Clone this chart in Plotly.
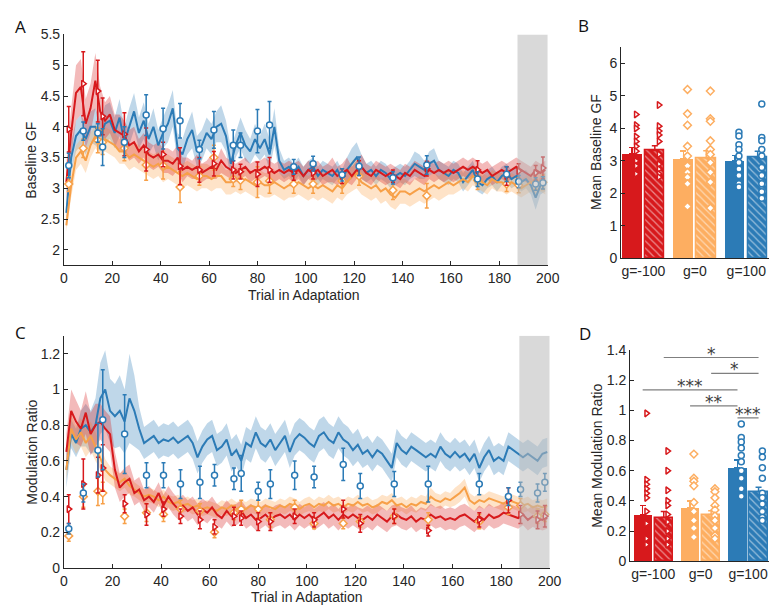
import plotly.graph_objects as go

# ---------------- data ----------------
trials = list(range(1, 200, 2))
catch_x = [2, 8, 14, 16, 25, 34, 41, 48, 56, 62, 70, 73, 80, 85, 95, 103, 115, 122, 136, 150, 171, 183, 188, 195, 198]

# Panel A : Baseline GF (mean and sem per trial)
a_blue = [2.6, 3.5, 3.85, 3.95, 3.8, 4.0, 4.0, 3.85, 4.05, 4.1,
          3.9, 4.15, 3.75, 4.0, 4.25, 3.9, 4.1, 3.8, 4.0, 3.7,
          3.9, 4.05, 4.3, 3.65, 3.55, 3.8, 3.95, 3.6, 3.7, 3.9,
          3.8, 4.0, 4.05, 3.85, 3.4, 3.7, 3.9, 3.7, 3.6, 3.8,
          3.65, 3.8, 3.55, 4.0, 3.45, 3.3, 3.35, 3.25, 3.35, 3.2,
          3.3, 3.35, 3.2, 3.3, 3.25, 3.2, 3.3, 3.15, 3.3, 3.4,
          3.5, 3.35, 3.25, 3.3, 3.2, 3.3, 3.25, 3.15, 3.2, 3.25,
          3.2, 3.3, 3.4, 3.35, 3.3, 3.4, 3.45, 3.3, 3.25, 3.2,
          3.3, 3.25, 3.1, 3.2, 3.3, 3.1, 3.05, 3.15, 3.2, 3.1,
          3.2, 3.25, 3.15, 3.2, 3.1, 3.15, 3.05, 2.85, 3.05, 3.1]
a_blue_sem = [0.15, 0.25, 0.25, 0.25, 0.25, 0.25, 0.3, 0.25, 0.3, 0.3,
              0.25, 0.3, 0.25, 0.3, 0.3, 0.25, 0.3, 0.25, 0.3, 0.25,
              0.25, 0.3, 0.3, 0.25, 0.25, 0.25, 0.3, 0.25, 0.25, 0.25,
              0.25, 0.25, 0.3, 0.25, 0.25, 0.2, 0.25, 0.25, 0.2, 0.25,
              0.2, 0.25, 0.25, 0.3, 0.2, 0.15, 0.15, 0.15, 0.15, 0.15,
              0.15, 0.15, 0.15, 0.15, 0.15, 0.15, 0.15, 0.15, 0.2, 0.25,
              0.25, 0.2, 0.15, 0.15, 0.15, 0.15, 0.15, 0.15, 0.15, 0.15,
              0.15, 0.15, 0.2, 0.2, 0.15, 0.2, 0.2, 0.15, 0.15, 0.15,
              0.15, 0.15, 0.15, 0.15, 0.15, 0.15, 0.15, 0.15, 0.15, 0.15,
              0.15, 0.15, 0.15, 0.15, 0.15, 0.15, 0.15, 0.2, 0.15, 0.15]
a_red = [3.1, 3.9, 4.55, 4.65, 4.05, 4.3, 4.75, 4.25, 4.1, 4.2,
         3.95, 3.9, 3.85, 3.7, 3.75, 3.6, 3.7, 3.55, 3.5, 3.55,
         3.45, 3.45, 3.4, 3.5, 3.3, 3.35, 3.3, 3.35, 3.25, 3.3,
         3.35, 3.3, 3.45, 3.35, 3.3, 3.25, 3.3, 3.35, 3.25, 3.3,
         3.3, 3.35, 3.3, 3.25, 3.3, 3.25, 3.3, 3.25, 3.3, 3.2,
         3.3, 3.25, 3.3, 3.2, 3.25, 3.3, 3.2, 3.25, 3.3, 3.2,
         3.3, 3.35, 3.25, 3.2, 3.3, 3.25, 3.2, 3.25, 3.2, 3.15,
         3.25, 3.2, 3.3, 3.25, 3.2, 3.3, 3.25, 3.3, 3.25, 3.3,
         3.25, 3.3, 3.35, 3.3, 3.35, 3.3, 3.25, 3.3, 3.2, 3.25,
         3.3, 3.25, 3.3, 3.35, 3.3, 3.25, 3.2, 3.3, 3.25, 3.3]
a_red_sem = [0.3, 0.4, 0.45, 0.45, 0.4, 0.4, 0.45, 0.4, 0.3, 0.3,
             0.25, 0.3, 0.25, 0.25, 0.25, 0.2, 0.2, 0.2, 0.2, 0.2,
             0.2, 0.2, 0.2, 0.2, 0.2, 0.15, 0.15, 0.2, 0.15, 0.15,
             0.2, 0.15, 0.2, 0.15, 0.15, 0.15, 0.15, 0.15, 0.15, 0.15,
             0.15, 0.15, 0.15, 0.15, 0.15, 0.15, 0.15, 0.15, 0.15, 0.15,
             0.15, 0.15, 0.15, 0.15, 0.15, 0.2, 0.15, 0.15, 0.2, 0.15,
             0.15, 0.2, 0.15, 0.15, 0.15, 0.15, 0.15, 0.15, 0.15, 0.15,
             0.15, 0.15, 0.15, 0.15, 0.15, 0.15, 0.15, 0.15, 0.15, 0.15,
             0.15, 0.15, 0.15, 0.15, 0.15, 0.15, 0.15, 0.15, 0.15, 0.15,
             0.15, 0.15, 0.15, 0.15, 0.15, 0.15, 0.15, 0.15, 0.15, 0.15]
a_orange = [2.4, 3.05, 3.5, 3.6, 3.45, 3.7, 3.85, 3.75, 3.8, 3.75,
            3.7, 3.6, 3.6, 3.5, 3.55, 3.5, 3.45, 3.4, 3.35, 3.4,
            3.3, 3.35, 3.3, 3.25, 3.2, 3.25, 3.2, 3.15, 3.2, 3.2,
            3.15, 3.2, 3.2, 3.1, 3.1, 3.15, 3.1, 3.15, 3.1, 3.05,
            3.1, 3.05, 3.05, 3.1, 3.05, 3.0, 3.05, 3.05, 3.1, 3.05,
            3.0, 3.05, 3.0, 3.05, 3.0, 2.95, 3.05, 3.0, 3.1, 3.2,
            3.25, 3.1, 3.05, 3.0, 3.05, 2.95, 3.0, 2.9, 2.85, 2.95,
            2.95, 2.9, 2.95, 3.0, 2.95, 3.0, 3.05, 3.0, 3.05, 3.1,
            3.05, 3.1, 3.15, 3.1, 3.2, 3.15, 3.1, 3.05, 3.15, 3.1,
            3.1, 3.05, 3.1, 3.05, 3.0, 3.05, 3.1, 3.05, 3.1, 3.05]
a_orange_sem = [0.1, 0.2, 0.2, 0.2, 0.2, 0.2, 0.2, 0.2, 0.2, 0.2,
                0.2, 0.2, 0.2, 0.2, 0.2, 0.2, 0.2, 0.2, 0.2, 0.2,
                0.2, 0.2, 0.2, 0.2, 0.2, 0.2, 0.2, 0.2, 0.2, 0.2,
                0.2, 0.2, 0.2, 0.2, 0.2, 0.2, 0.2, 0.2, 0.2, 0.2,
                0.2, 0.2, 0.2, 0.2, 0.2, 0.2, 0.2, 0.2, 0.2, 0.2,
                0.2, 0.2, 0.2, 0.2, 0.2, 0.2, 0.2, 0.2, 0.2, 0.25,
                0.25, 0.2, 0.2, 0.2, 0.2, 0.2, 0.2, 0.2, 0.2, 0.2,
                0.2, 0.2, 0.2, 0.2, 0.2, 0.2, 0.2, 0.2, 0.2, 0.2,
                0.15, 0.15, 0.15, 0.15, 0.15, 0.15, 0.15, 0.15, 0.15, 0.15,
                0.15, 0.15, 0.15, 0.15, 0.15, 0.15, 0.15, 0.15, 0.15, 0.15]

# catch trial markers (panel A)
a_catch_blue = [3.37, 3.93, 3.9, 3.67, 3.75, 4.19, 3.97, 4.1, 3.63, 3.95, 3.7, 3.7, 3.93, 4.03, 3.35, 3.4, 3.22, 3.36, 3.17, 3.38, 3.15, 3.23, 3.11, 3.07, 3.09]
a_catch_blue_err = [0.2, 0.15, 0.15, 0.3, 0.25, 0.33, 0.33, 0.28, 0.15, 0.3, 0.25, 0.2, 0.35, 0.38, 0.12, 0.12, 0.1, 0.15, 0.1, 0.15, 0.12, 0.12, 0.1, 0.1, 0.1]
a_catch_red = [3.96, 4.7, 4.58, 4.17, 3.88, 3.63, 3.55, 3.36, 3.3, 3.4, 3.3, 3.27, 3.23, 3.3, 3.25, 3.25, 3.2, 3.33, 3.2, 3.32, 3.3, 3.2, 3.28, 3.25, 3.33]
a_catch_red_err = [0.37, 0.52, 0.5, 0.3, 0.35, 0.35, 0.2, 0.3, 0.2, 0.2, 0.15, 0.12, 0.2, 0.2, 0.12, 0.1, 0.12, 0.12, 0.1, 0.12, 0.15, 0.15, 0.12, 0.12, 0.18]
a_catch_orange = [3.07, 3.65, 3.78, 3.75, 3.65, 3.38, 3.37, 3.02, 3.2, 3.5, 3.15, 3.13, 3.1, 3.12, 3.07, 3.07, 3.12, 3.2, 2.97, 2.88, 3.13, 3.07, 3.05, 3.1, 3.1]
a_catch_orange_err = [0.12, 0.15, 0.2, 0.2, 0.2, 0.25, 0.22, 0.25, 0.15, 0.2, 0.12, 0.15, 0.25, 0.2, 0.15, 0.15, 0.2, 0.15, 0.15, 0.2, 0.15, 0.12, 0.12, 0.12, 0.12]

# Panel C : Modulation ratio
c_blue = [0.55, 0.75, 0.7, 0.78, 0.8, 0.76, 0.8, 0.95, 1.0, 0.88,
          0.85, 0.88, 0.82, 0.95, 0.88, 0.78, 0.7, 0.72, 0.74, 0.7,
          0.72, 0.71, 0.73, 0.7, 0.72, 0.74, 0.7, 0.62, 0.68, 0.72,
          0.74, 0.66, 0.68, 0.72, 0.63, 0.66, 0.6, 0.7, 0.68, 0.76,
          0.7, 0.68, 0.72, 0.66, 0.7, 0.74, 0.65, 0.72, 0.75, 0.73,
          0.7, 0.68, 0.74, 0.76, 0.72, 0.7, 0.76, 0.72, 0.7, 0.66,
          0.69, 0.64, 0.66, 0.62, 0.66, 0.64, 0.6, 0.56, 0.7, 0.66,
          0.64, 0.68, 0.66, 0.64, 0.62, 0.64, 0.62, 0.68, 0.64, 0.62,
          0.65, 0.62, 0.64, 0.6, 0.64, 0.56, 0.62, 0.66, 0.6, 0.62,
          0.6, 0.68, 0.66, 0.64, 0.62, 0.64, 0.62, 0.6, 0.64, 0.65]
c_blue_sem = [0.1, 0.08, 0.08, 0.1, 0.12, 0.12, 0.15, 0.2, 0.22, 0.18,
              0.18, 0.2, 0.18, 0.25, 0.2, 0.12, 0.09, 0.09, 0.09, 0.09,
              0.09, 0.09, 0.09, 0.09, 0.09, 0.09, 0.09, 0.09, 0.09, 0.09,
              0.09, 0.09, 0.09, 0.09, 0.09, 0.09, 0.09, 0.09, 0.09, 0.09,
              0.09, 0.09, 0.09, 0.09, 0.09, 0.09, 0.09, 0.09, 0.09, 0.09,
              0.09, 0.09, 0.09, 0.09, 0.09, 0.09, 0.09, 0.09, 0.09, 0.09,
              0.09, 0.08, 0.08, 0.08, 0.08, 0.08, 0.08, 0.08, 0.08, 0.08,
              0.08, 0.08, 0.08, 0.08, 0.08, 0.08, 0.08, 0.08, 0.08, 0.08,
              0.08, 0.08, 0.08, 0.08, 0.08, 0.08, 0.08, 0.08, 0.08, 0.08,
              0.08, 0.08, 0.08, 0.08, 0.08, 0.08, 0.08, 0.08, 0.08, 0.08]
c_red = [0.65, 0.88, 0.82, 0.78, 0.87, 0.75, 0.8, 0.82, 0.78, 0.75,
         0.55, 0.45, 0.48, 0.5, 0.42, 0.44, 0.38, 0.4, 0.37, 0.42,
         0.35, 0.4, 0.36, 0.33, 0.35, 0.32, 0.34, 0.3, 0.33, 0.31,
         0.34, 0.3, 0.28, 0.32, 0.29, 0.3, 0.32, 0.28, 0.3, 0.27,
         0.28, 0.3, 0.27, 0.29, 0.3, 0.28, 0.3, 0.27, 0.3, 0.28,
         0.3, 0.27, 0.29, 0.31, 0.28, 0.3, 0.27, 0.3, 0.28, 0.3,
         0.28, 0.27, 0.29, 0.27, 0.3, 0.28, 0.26, 0.29, 0.3, 0.28,
         0.27, 0.29, 0.26, 0.28, 0.27, 0.3, 0.28, 0.29, 0.27, 0.28,
         0.27, 0.29, 0.3, 0.28, 0.26, 0.29, 0.27, 0.3, 0.28, 0.29,
         0.31, 0.3, 0.29, 0.28, 0.3, 0.27, 0.29, 0.28, 0.27, 0.28]
c_red_sem = [0.1, 0.12, 0.12, 0.1, 0.12, 0.12, 0.12, 0.1, 0.1, 0.1,
             0.1, 0.08, 0.08, 0.08, 0.07, 0.07, 0.06, 0.06, 0.06, 0.06,
             0.06, 0.06, 0.06, 0.06, 0.06, 0.06, 0.06, 0.06, 0.06, 0.06,
             0.06, 0.06, 0.06, 0.06, 0.06, 0.06, 0.06, 0.06, 0.06, 0.06,
             0.06, 0.06, 0.06, 0.06, 0.06, 0.06, 0.06, 0.06, 0.06, 0.06,
             0.06, 0.06, 0.06, 0.06, 0.06, 0.06, 0.06, 0.06, 0.06, 0.06,
             0.06, 0.06, 0.06, 0.06, 0.06, 0.06, 0.06, 0.06, 0.06, 0.06,
             0.06, 0.06, 0.06, 0.06, 0.06, 0.06, 0.06, 0.06, 0.06, 0.06,
             0.06, 0.06, 0.06, 0.06, 0.06, 0.06, 0.06, 0.06, 0.06, 0.06,
             0.06, 0.06, 0.06, 0.06, 0.06, 0.06, 0.06, 0.06, 0.06, 0.06]
c_orange = [0.55, 0.78, 0.72, 0.76, 0.7, 0.74, 0.68, 0.62, 0.55, 0.52,
            0.5, 0.48, 0.5, 0.46, 0.44, 0.42, 0.4, 0.41, 0.4, 0.38,
            0.4, 0.37, 0.36, 0.37, 0.35, 0.36, 0.34, 0.35, 0.33, 0.34,
            0.33, 0.32, 0.34, 0.33, 0.35, 0.33, 0.34, 0.33, 0.35, 0.34,
            0.33, 0.35, 0.34, 0.33, 0.35, 0.34, 0.36, 0.35, 0.33, 0.35,
            0.36, 0.34, 0.36, 0.35, 0.37, 0.35, 0.36, 0.34, 0.36, 0.35,
            0.37, 0.35, 0.36, 0.34, 0.35, 0.37, 0.36, 0.38, 0.35, 0.36,
            0.34, 0.36, 0.35, 0.37, 0.36, 0.4, 0.38, 0.37, 0.39, 0.38,
            0.4, 0.42, 0.45, 0.38, 0.36, 0.38, 0.37, 0.39, 0.38, 0.37,
            0.36, 0.38, 0.37, 0.36, 0.35, 0.36, 0.34, 0.35, 0.34, 0.35]
c_orange_sem = [0.06, 0.08, 0.08, 0.08, 0.08, 0.08, 0.08, 0.07, 0.06, 0.05,
                0.05, 0.05, 0.05, 0.05, 0.04, 0.04, 0.04, 0.04, 0.04, 0.04,
                0.04, 0.04, 0.04, 0.04, 0.04, 0.04, 0.04, 0.04, 0.04, 0.04,
                0.04, 0.04, 0.04, 0.04, 0.04, 0.04, 0.04, 0.04, 0.04, 0.04,
                0.04, 0.04, 0.04, 0.04, 0.04, 0.04, 0.04, 0.04, 0.04, 0.04,
                0.04, 0.04, 0.04, 0.04, 0.04, 0.04, 0.04, 0.04, 0.04, 0.04,
                0.04, 0.04, 0.04, 0.04, 0.04, 0.04, 0.04, 0.04, 0.04, 0.04,
                0.04, 0.04, 0.04, 0.04, 0.04, 0.05, 0.04, 0.04, 0.04, 0.04,
                0.05, 0.05, 0.05, 0.04, 0.04, 0.04, 0.04, 0.04, 0.04, 0.04,
                0.04, 0.04, 0.04, 0.04, 0.04, 0.04, 0.04, 0.04, 0.04, 0.04]

c_catch_blue = [0.22, 0.42, 0.66, 0.83, 0.75, 0.52, 0.52, 0.47, 0.48, 0.52, 0.50, 0.53, 0.43, 0.47, 0.52, 0.51, 0.58, 0.46, 0.47, 0.47, 0.47, 0.40, 0.44, 0.42, 0.48]
c_catch_blue_err = [0.03, 0.05, 0.15, 0.28, 0.22, 0.07, 0.07, 0.08, 0.09, 0.06, 0.06, 0.1, 0.05, 0.08, 0.08, 0.06, 0.09, 0.07, 0.07, 0.1, 0.06, 0.05, 0.04, 0.05, 0.05]
c_catch_red = [0.33, 0.47, 0.52, 0.56, 0.36, 0.30, 0.33, 0.29, 0.27, 0.23, 0.29, 0.28, 0.26, 0.26, 0.29, 0.27, 0.33, 0.25, 0.29, 0.21, 0.27, 0.38, 0.30, 0.27, 0.29]
c_catch_red_err = [0.08, 0.14, 0.1, 0.13, 0.05, 0.06, 0.04, 0.04, 0.05, 0.04, 0.05, 0.04, 0.05, 0.05, 0.04, 0.04, 0.05, 0.05, 0.04, 0.03, 0.04, 0.07, 0.05, 0.05, 0.06]
c_catch_orange = [0.18, 0.40, 0.43, 0.42, 0.29, 0.31, 0.30, 0.33, 0.32, 0.20, 0.31, 0.33, 0.33, 0.27, 0.34, 0.25, 0.25, 0.26, 0.29, 0.27, 0.26, 0.34, 0.35, 0.29, 0.30]
c_catch_orange_err = [0.03, 0.06, 0.08, 0.06, 0.04, 0.05, 0.04, 0.05, 0.04, 0.03, 0.04, 0.05, 0.05, 0.04, 0.04, 0.03, 0.03, 0.03, 0.04, 0.04, 0.04, 0.04, 0.04, 0.04, 0.04]

# Panels B and D : bar summaries
group_labels = ["g=-100", "g=0", "g=100"]
bar_pos = [1, 2, 3.25, 4.25, 5.5, 6.5]
b_means = [3.21, 3.32, 3.06, 3.10, 3.00, 3.12]
b_errs = [0.20, 0.15, 0.25, 0.21, 0.17, 0.18]
b_points = [
    [4.43, 4.1, 4.0, 3.75, 3.6, 3.45, 3.3, 3.0, 2.85, 2.6],
    [4.72, 4.07, 3.92, 3.8, 3.6, 3.2, 2.9, 2.75, 2.6, 2.5],
    [5.2, 4.45, 4.1, 3.45, 3.15, 2.85, 2.65, 2.5, 2.3, 1.6],
    [5.15, 4.3, 4.22, 3.62, 3.35, 3.2, 2.95, 2.65, 2.35, 1.55],
    [3.88, 3.77, 3.5, 3.35, 3.15, 2.95, 2.75, 2.55, 2.3, 2.2],
    [4.75, 3.72, 3.62, 3.35, 3.15, 2.8, 2.55, 2.3, 2.05, 1.85],
]
d_means = [0.31, 0.29, 0.355, 0.31, 0.62, 0.46]
d_errs = [0.06, 0.04, 0.045, 0.025, 0.05, 0.03]
d_points = [
    [0.98, 0.54, 0.51, 0.48, 0.45, 0.42, 0.33, 0.25, 0.15, 0.11],
    [0.73, 0.6, 0.47, 0.4, 0.37, 0.31, 0.26, 0.2, 0.15, 0.11],
    [0.71, 0.55, 0.53, 0.5, 0.39, 0.33, 0.27, 0.22, 0.17, 0.16],
    [0.48, 0.46, 0.42, 0.37, 0.34, 0.3, 0.27, 0.22, 0.17, 0.15],
    [0.91, 0.82, 0.79, 0.75, 0.7, 0.66, 0.6, 0.55, 0.48, 0.43],
    [0.73, 0.69, 0.62, 0.55, 0.45, 0.42, 0.38, 0.33, 0.29, 0.27],
]
# significance brackets: (from bar index, to bar index, height, label)
d_sig = [(1, 5, 1.35, "*"), (3, 5, 1.245, "*"), (0, 4, 1.135, "***"), (2, 4, 1.03, "**"), (4, 5, 0.95, "***")]

# ---------------- style ----------------
RED = "#d7191c"
ORANGE = "#fdae61"
ORANGE_LINE = "#f7a048"
BLUE = "#2c7bb6"
BAND = {RED: "rgba(215,25,28,0.30)", ORANGE: "rgba(253,174,97,0.35)", BLUE: "rgba(44,123,182,0.30)"}
FONT = "Liberation Sans, Arial, sans-serif"
AX = "#262626"
W, H = 778, 607

fig = go.Figure()


def band(x, m, s, col, xa, ya):
    up = [a + b for a, b in zip(m, s)]
    lo = [a - b for a, b in zip(m, s)]
    fig.add_trace(go.Scatter(x=list(x) + list(x)[::-1], y=up + lo[::-1], fill="toself",
                             fillcolor=BAND[col], line=dict(width=0), mode="lines",
                             hoverinfo="skip", showlegend=False, xaxis=xa, yaxis=ya))


def line(x, m, col, xa, ya):
    fig.add_trace(go.Scatter(x=x, y=m, mode="lines", line=dict(color=col, width=2),
                             showlegend=False, xaxis=xa, yaxis=ya))


def catch(x, v, e, col, sym, xa, ya):
    fig.add_trace(go.Scatter(x=x, y=v, mode="markers",
                             marker=dict(symbol=sym, size=6, color="white", line=dict(color=col, width=1.5)),
                             error_y=dict(type="data", array=e, color=col, thickness=1.5, width=2),
                             showlegend=False, xaxis=xa, yaxis=ya))


series_A = [(a_blue, a_blue_sem, BLUE, BLUE), (a_orange, a_orange_sem, ORANGE, ORANGE_LINE), (a_red, a_red_sem, RED, RED)]
series_C = [(c_blue, c_blue_sem, BLUE, BLUE), (c_orange, c_orange_sem, ORANGE, ORANGE_LINE), (c_red, c_red_sem, RED, RED)]
for series, xa, ya in [(series_A, "x", "y"), (series_C, "x3", "y3")]:
    for m, s, col, lc in series:
        band(trials, m, s, col, xa, ya)
    for m, s, col, lc in series:
        line(trials, m, lc, xa, ya)

catch(catch_x, a_catch_orange, a_catch_orange_err, ORANGE_LINE, "diamond", "x", "y")
catch(catch_x, a_catch_red, a_catch_red_err, RED, "triangle-right", "x", "y")
catch(catch_x, a_catch_blue, a_catch_blue_err, BLUE, "circle", "x", "y")
catch(catch_x, c_catch_orange, c_catch_orange_err, ORANGE_LINE, "diamond", "x3", "y3")
catch(catch_x, c_catch_red, c_catch_red_err, RED, "triangle-right", "x3", "y3")
catch(catch_x, c_catch_blue, c_catch_blue_err, BLUE, "circle", "x3", "y3")

bar_cols = [RED, RED, ORANGE, ORANGE, BLUE, BLUE]
bar_syms = ["triangle-right", "triangle-right", "diamond", "diamond", "circle", "circle"]
for means, errs, pts, xa, ya in [(b_means, b_errs, b_points, "x2", "y2"), (d_means, d_errs, d_points, "x4", "y4")]:
    for i in range(6):
        col = bar_cols[i]
        hatched = i % 2 == 1
        marker = dict(color=col, line=dict(color=col, width=1.5 if hatched else 0))
        if hatched:
            marker["pattern"] = dict(shape="\\", fgcolor="white", bgcolor=col, size=5, solidity=0.25)
        fig.add_trace(go.Bar(x=[bar_pos[i]], y=[means[i]], width=0.86, marker=marker,
                             error_y=dict(type="data", symmetric=False, array=[errs[i]], arrayminus=[0],
                                          color=col, thickness=1.5, width=3),
                             showlegend=False, xaxis=xa, yaxis=ya))
    for i in range(6):
        col = bar_cols[i]
        fig.add_trace(go.Scatter(x=[bar_pos[i] + 0.18] * len(pts[i]), y=pts[i], mode="markers",
                                 marker=dict(symbol=bar_syms[i], size=6, color="white",
                                             line=dict(color=col, width=1.5)),
                                 showlegend=False, xaxis=xa, yaxis=ya))

# ---------------- layout ----------------
def px_x(a, b):
    return [a / W, b / W]


def px_y(top, bottom):
    return [1 - bottom / H, 1 - top / H]


tickfont = dict(family=FONT, size=14, color=AX)
common = dict(showline=True, linecolor=AX, linewidth=1, ticks="inside", ticklen=4, tickcolor=AX,
              tickfont=tickfont, showgrid=False, zeroline=False, mirror=False)

layout = dict(
    width=W, height=H, margin=dict(l=0, r=0, t=0, b=0), paper_bgcolor="white", plot_bgcolor="white",
    bargap=0, showlegend=False,
    xaxis=dict(common, domain=px_x(53, 547), range=[0, 200], tickvals=list(range(0, 201, 20)), anchor="y"),
    yaxis=dict(common, domain=px_y(19, 256), range=[1.75, 5.5],
               tickvals=[2, 2.5, 3, 3.5, 4, 4.5, 5, 5.5], ticktext=["2", "2.5", "3", "3.5", "4", "4.5", "5", "5.5"], anchor="x"),
    xaxis2=dict(common, domain=px_x(622, 773), range=[0.53, 7.0], tickvals=[1.5, 3.75, 6.0],
                ticktext=group_labels, ticks="", anchor="y2"),
    yaxis2=dict(common, domain=px_y(32, 249), range=[0, 6.5], tickvals=[0, 1, 2, 3, 4, 5, 6], anchor="x2"),
    xaxis3=dict(common, domain=px_x(53, 549), range=[0, 200], tickvals=list(range(0, 201, 20)), anchor="y3"),
    yaxis3=dict(common, domain=px_y(328.5, 567), range=[0, 1.3],
                tickvals=[0, 0.2, 0.4, 0.6, 0.8, 1.0, 1.2], ticktext=["0", "0.2", "0.4", "0.6", "0.8", "1", "1.2"], anchor="x3"),
    xaxis4=dict(common, domain=px_x(631, 773), range=[0.4, 7.0], tickvals=[1.5, 3.75, 6.0],
                ticktext=group_labels, ticks="", anchor="y4"),
    yaxis4=dict(common, domain=px_y(343, 560), range=[0, 1.4],
                tickvals=[0, 0.2, 0.4, 0.6, 0.8, 1.0, 1.2, 1.4],
                ticktext=["0", "0.2", "0.4", "0.6", "0.8", "1", "1.2", "1.4"], anchor="x4"),
)

shapes = [
    dict(type="rect", xref="x", yref="y", x0=187.5, x1=200, y0=1.75, y1=5.5,
         fillcolor="rgba(185,185,185,0.55)", line=dict(width=0), layer="above"),
    dict(type="rect", xref="x3", yref="y3", x0=187.5, x1=200, y0=0, y1=1.3,
         fillcolor="rgba(185,185,185,0.55)", line=dict(width=0), layer="above"),
]
annotations = []
for i0, i1, h, lab in d_sig:
    shapes.append(dict(type="line", xref="x4", yref="y4", x0=bar_pos[i0], x1=bar_pos[i1], y0=h, y1=h,
                       line=dict(color="#7f7f7f", width=1.2)))
    annotations.append(dict(xref="x4", yref="y4", x=(bar_pos[i0] + bar_pos[i1]) / 2, y=h, text=lab,
                            showarrow=False, yanchor="bottom", yshift=-8,
                            font=dict(family="DejaVu Sans", size=17, color="#404040")))


def pann(x, y, text, size=14, angle=0):
    annotations.append(dict(xref="paper", yref="paper", x=x / W, y=1 - y / H, text=text, showarrow=False,
                            textangle=angle, xanchor="center", yanchor="middle",
                            font=dict(family=FONT, size=size, color=AX)))


pann(20, 148, "Baseline GF", angle=-90)
pann(298, 287, "Trial in Adaptation")
pann(597, 140, "Mean Baseline GF", angle=-90)
pann(21, 448, "Modulation Ratio", angle=-90)
pann(301, 597, "Trial in Adaptation")
pann(597, 452, "Mean Modulation Ratio", angle=-90)
for x, y, t in [(9, 11, "A"), (584, 10, "B"), (9, 325, "C"), (585, 326, "D")]:
    annotations.append(dict(xref="paper", yref="paper", x=x / W, y=1 - y / H, text=t, showarrow=False,
                            xanchor="center", yanchor="middle",
                            font=dict(family="Open Sans, sans-serif", size=17, color="#111111")))

layout["shapes"] = shapes
layout["annotations"] = annotations
fig.update_layout(**layout)
fig.write_html("out.html")
